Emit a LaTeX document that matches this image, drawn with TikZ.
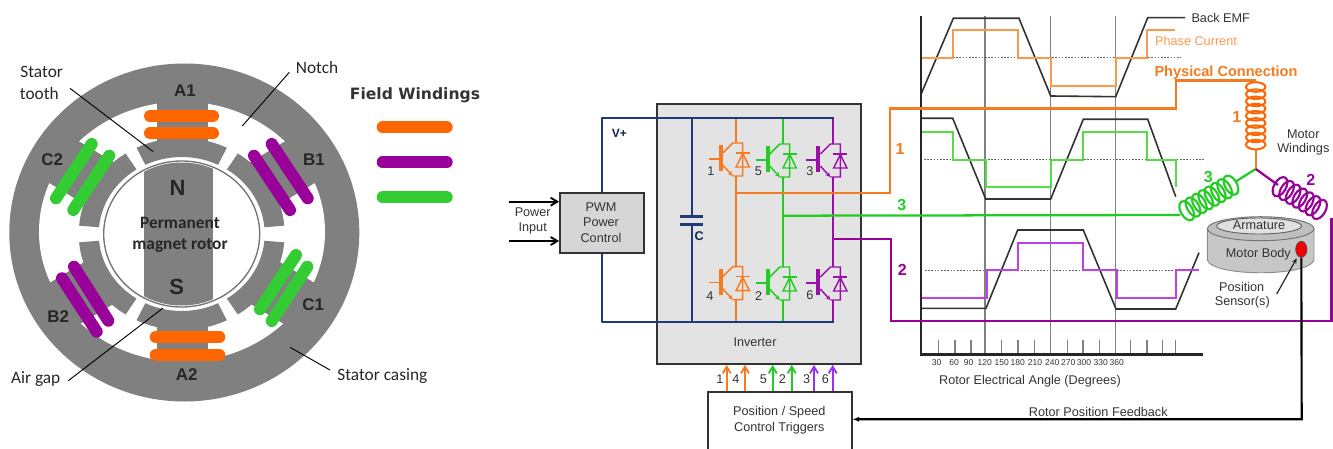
\documentclass[tikz,border=0pt]{standalone}
\usepackage{fontspec}
\setmainfont{Liberation Sans}
\newfontfamily\calib{Carlito}
\newfontfamily\dvb{DejaVu Sans}
\usetikzlibrary{arrows.meta,shapes.geometric}
\definecolor{stgray}{HTML}{808080}
\definecolor{wor}{HTML}{FF6600}
\definecolor{wpu}{HTML}{990099}
\definecolor{wgr}{HTML}{33CC33}
\definecolor{ior}{HTML}{F47B20}
\definecolor{igr}{HTML}{22CC22}
\definecolor{ipu}{HTML}{9A0FA8}
\definecolor{navy1}{HTML}{1F3A7A}
\definecolor{lor}{HTML}{F79A50}
\definecolor{lgr}{HTML}{55DD44}
\definecolor{lpu}{HTML}{C040E8}
\definecolor{tpu}{HTML}{9933EE}
\definecolor{txt}{HTML}{333333}
\tikzset{
  lbl/.style={inner sep=0pt,text=txt,font=\fontsize{9.5}{11}\selectfont},
  cal/.style={inner sep=0pt,text=black!85,font=\calib\fontsize{13}{15}\selectfont},
  pole/.style={inner sep=0pt,text=black!85,font=\bfseries\fontsize{12.7}{14}\selectfont},
  tick/.style={inner sep=0pt,text=txt,font=\fontsize{6.4}{7}\selectfont},
  num/.style={inner sep=0pt,font=\bfseries\fontsize{12}{14}\selectfont},
  leader/.style={draw=black,line width=0.7pt},
  bar/.style={line width=9pt,line cap=round},
  grayblock/.style={draw=black!80,line width=1.3pt,inner sep=0pt},
  navyw/.style={draw=navy1,line width=1.6pt,line join=round},
  ww/.style={line width=1.5pt,line join=miter},
  emf/.style={draw=black!80,line width=1.2pt,line join=miter},
  cur/.style={line width=1.25pt,line join=miter},
  grd/.style={draw=black!50,line width=0.8pt},
  dots/.style={draw=black!60,line width=0.6pt,dash pattern=on 1.2pt off 1.2pt},
  barb/.style={-{Straight Barb[length=5pt,width=6pt]}},
}
\newcommand{\igbtsym}[4]{%
  \coordinate (#4c) at (#1,#2-16);
  \coordinate (#4e) at (#1,#2+17);
  \begin{scope}[shift={(#1,#2)},draw=#3,line width=1.1pt]
    \draw (-27,0) -- (-15,0);
    \draw[line width=2.8pt] (-15,-14) -- (-15,12);
    \draw (-13,-6) -- (-3,-16) -- (7,-16) -- (7,17) -- (-3,17);
    \draw[-{Stealth[length=3.5pt,width=3.5pt]}] (-13,6) -- (-3,17);
    \draw (0.3,8) -- (13.7,8) -- (7,-5.5) -- cycle;
    \draw (0,-6) -- (14,-6);
  \end{scope}}
\newcommand{\coilsym}[7]{% x y angle n step color name
  \coordinate (#7) at (#1,#2);
  \begin{scope}[shift={(#1,#2)},rotate=#3]
    \foreach \i in {1,...,#4}{\draw[draw=#6,line width=1.6pt] ({(\i-1)*#5},0) ellipse (6 and 10.5);}
  \end{scope}}
\begin{document}
\begin{tikzpicture}[x=0.75pt,y=-0.75pt]
\useasboundingbox (0,0) rectangle (1333,449);
\clip (0,0) rectangle (1333,449);
% ---------- left motor ----------
\fill[stgray] (184.3,232.5) ellipse (175 and 169);
\fill[white] (182,231.7) ellipse (143 and 130);
\foreach \a in {90,31,-31,-90,149,211}{
  \begin{scope}[shift={(182,233)},rotate=\a]
    \fill[stgray] (85,-25.5) rectangle (150,25.5);
  \end{scope}
  \fill[stgray,shift={(181.7,234)}]
    plot[domain=\a-26:\a+26,samples=14] ({83*cos(\x)},{77*sin(\x)}) --
    plot[domain=\a+26:\a-26,samples=14] ({103*cos(\x)},{96*sin(\x)}) -- cycle;
}
\begin{scope}
  \clip (181.7,234) ellipse (76.5 and 71.5);
  \fill[stgray] (144,150) rectangle (213.3,320);
\end{scope}
\draw[black!55,line width=1pt] (181.7,234) ellipse (78 and 73);
\draw[wor,bar] (150,116) -- (213,116);
\draw[wor,bar] (150,133.3) -- (213,133.3);
\draw[wor,bar] (155.7,337) -- (219.3,337);
\draw[wor,bar] (155.7,355) -- (219.3,355);
\draw[wpu,bar] (271.7,144) -- (307.7,198.3);
\draw[wpu,bar] (254,155.7) -- (290,210);
\draw[wpu,bar] (74,266.7) -- (108.3,320.7);
\draw[wpu,bar] (62,278.3) -- (96.7,331.7);
\draw[wgr,bar] (91.7,144) -- (56,198.3);
\draw[wgr,bar] (109.3,155.7) -- (73.3,210);
\draw[wgr,bar] (296,255) -- (260,309.3);
\draw[wgr,bar] (307.3,266.7) -- (271.7,321);
\draw[wor,bar] (382.7,127.3) -- (446.7,127.3);
\draw[wpu,bar] (382.7,162.3) -- (446.7,162.3);
\draw[wgr,bar] (382.7,197.3) -- (446.7,197.3);
\node[pole] (a1) at (185,91) {A1};
\node[pole] (a2) at (186.7,375) {A2};
\node[pole] (b1) at (314,160) {B1};
\node[pole] (b2) at (58.3,316.7) {B2};
\node[pole] (c1) at (313.3,305) {C1};
\node[pole] (c2) at (52.3,159.3) {C2};
\node[pole,font=\bfseries\fontsize{16.5}{18}\selectfont] (np) at (177.5,187.5) {N};
\node[pole,font=\bfseries\fontsize{16.5}{18}\selectfont] (sp) at (176.7,287) {S};
\node[cal,font=\calib\bfseries\fontsize{13}{15}\selectfont] (pm1) at (180,223) {Permanent};
\node[cal,font=\calib\bfseries\fontsize{13}{15}\selectfont] (pm2) at (180,245) {magnet rotor};
\node[cal] (st1) at (41.7,72) {Stator};
\node[cal] (st2) at (39.3,93.3) {tooth};
\node[cal] (notch) at (317,68) {Notch};
\node[cal] (airgap) at (35.7,379.3) {Air gap};
\node[cal] (casing) at (382.3,376) {Stator casing};
\node[inner sep=0pt,text=txt,font=\dvb\bfseries\fontsize{11.7}{14}\selectfont] (field) at (415,95.7) {Field Windings};
\coordinate (l1a) at (70,88.3); \coordinate (l1b) at (153.3,151.7);
\coordinate (l2a) at (289.3,72.3); \coordinate (l2b) at (242.3,126);
\coordinate (l3a) at (68.3,380.7); \coordinate (l3b) at (162.7,308.3);
\coordinate (l4a) at (330,370); \coordinate (l4b) at (290,347.3);
\draw[leader] (l1a) -- (l1b);
\draw[leader] (l2a) -- (l2b);
\draw[leader] (l3a) -- (l3b);
\draw[leader] (l4a) -- (l4b);
% ---------- graphs ----------
\foreach \x in {985,1050.7,1115.7}{\draw[grd] (\x,15.7) -- (\x,354);}
\foreach \x in {938.3,955,971,1001.7,1018,1034.3,1067.7,1083,1099.3,1130.7,1147,1162.3,1175.7}{\draw[grd] (\x,340) -- (\x,354);}
\draw[dots] (953,57.7) -- (1181,57.7);
\draw[dots] (920.7,159.7) -- (1204.7,159.7);
\draw[dots] (925,270.3) -- (1199,270.3);
\draw[emf] (920.7,95) -- (953.3,18.3) -- (1019,18.3) -- (1050.7,96) -- (1115.7,96.7) -- (1147.7,17.7) -- (1185,17.7);
\draw[cur,lor] (920.7,57.7) -- (953,57.7) -- (953,30) -- (1018.3,30) -- (1018.3,57.7) -- (1050.7,57.7) -- (1050.7,85.7) -- (1115.7,85.7) -- (1115.7,57.7) -- (1146.7,57.7) -- (1146.7,30) -- (1175,30);
\draw[emf] (920.7,118.3) -- (952.7,118.3) -- (985.7,199) -- (1050.7,199) -- (1083.3,119.3) -- (1147.7,119.3) -- (1175.7,196.7);
\draw[cur,lgr] (920.7,131.7) -- (953.3,131.7) -- (953.3,159.7) -- (986,159.7) -- (986,187.3) -- (1050.7,187.3) -- (1050.7,159.7) -- (1083.3,159.7) -- (1083.3,131.7) -- (1147.3,131.7) -- (1147.3,159.7) -- (1175.7,159.7) -- (1175.7,187.3);
\draw[emf] (920.7,308.3) -- (986,308.3) -- (1017.7,230) -- (1083.3,230) -- (1116,309) -- (1175.7,309) -- (1199,252.7);
\draw[cur,lpu] (920.7,298.3) -- (986.7,298.3) -- (986.7,270.3) -- (1018.3,270.3) -- (1018.3,242.7) -- (1082.7,242.7) -- (1082.7,270.3) -- (1116.7,270.3) -- (1116.7,298.3) -- (1176,298.3) -- (1176,270.3) -- (1199,270.3);
\draw[black!85,line width=1.8pt,line join=miter] (920.7,15.7) -- (920.7,354.3) -- (1203.3,354.3);
\foreach \x/\t in {936.7/30,954/60,968.7/90,984.7/120,1001.7/150,1017.7/180,1035/210,1052.3/240,1068.3/270,1084/300,1100.7/330,1116.7/360}{
  \node[tick] (t\t) at (\x,362.3) {\t};}
\node[lbl] (raxis) at (1030,381) {Rotor Electrical Angle (Degrees)};
\node[lbl] (rfb) at (1098.3,412) {Rotor Position Feedback};
\node[lbl] (bemf) at (1220.7,17.7) {Back EMF};
\node[lbl,text=lor] (pcur) at (1196,41) {Phase Current};
\node[inner sep=0pt,text=ior,font=\bfseries\fontsize{10.9}{13}\selectfont] (phys) at (1226,72.7) {Physical Connection};
% ---------- boxes ----------
\node[grayblock,fill=black!11,minimum width=153.2pt,minimum height=195pt] (inv) at (758.85,234) {};
\node[grayblock,fill=black!16,minimum width=62.8pt,minimum height=45pt] (pwm) at (601.85,222.7) {};
\node[lbl] (invt) at (755,342.7) {Inverter};
\node[lbl] (pw1) at (601,206.7) {PWM};
\node[lbl] (pw2) at (601,222.7) {Power};
\node[lbl] (pw3) at (601,238.3) {Control};
\node[lbl] (pi1) at (532.7,212.7) {Power};
\node[lbl] (pi2) at (532.7,228) {Input};
\coordinate (pin1) at (509,201.7);
\coordinate (pin2) at (509,241);
\draw[barb,draw=black,line width=1.4pt] (pin1) -- (pwm.west|-pin1);
\draw[barb,draw=black,line width=1.4pt] (pin2) -- (pwm.west|-pin2);
% DC bus
\coordinate (vt) at (834,118.3);
\coordinate (vb) at (834,321.7);
\coordinate (cx) at (691.7,118.3);
\coordinate (cp1) at (691.7,216.7);
\coordinate (cp2) at (691.7,224.7);
\coordinate (cb) at (691.7,321.7);
\draw[navyw] (cx) -- (cp1);
\draw[navyw] (cp2) -- (cb);
\draw[navy1,line width=2.5pt] (680,216.7) -- (702.7,216.7);
\draw[navy1,line width=2.5pt] (680,224.7) -- (702.7,224.7);
\node[inner sep=0pt,text=navy1!70!black,font=\bfseries\fontsize{9.5}{11}\selectfont] (cl) at (699.3,236) {C};
\node[inner sep=0pt,text=navy1!60!black,font=\bfseries\fontsize{9}{11}\selectfont] (vp) at (619.3,133.3) {V+};
% IGBTs
\igbtsym{735.7}{159}{ior}{g1}
\igbtsym{782.7}{160}{igr}{g5}
\igbtsym{833.3}{160}{ipu}{g3}
\igbtsym{735.7}{282.7}{ior}{g4}
\igbtsym{782.7}{283}{igr}{g2}
\igbtsym{833.3}{283}{ipu}{g6}
\foreach \cc/\up/\dn/\x in {ior/g1/g4/735.7,igr/g5/g2/782.7,ipu/g3/g6/833.3}{
  \draw[ww,\cc] (\x,118.3) -- (\up c);
  \draw[ww,\cc] (\up e) -- (\dn c);
  \draw[ww,\cc] (\dn e) -- (\x,321.7);
}
\draw[navyw] (pwm.north) |- (vt);
\draw[navyw] (pwm.south) |- (vb);
\node[tick,font=\fontsize{9.5}{11}\selectfont] (n1) at (711,171) {1};
\node[tick,font=\fontsize{9.5}{11}\selectfont] (n5) at (758.3,171) {5};
\node[tick,font=\fontsize{9.5}{11}\selectfont] (n3) at (810,171) {3};
\node[tick,font=\fontsize{9.5}{11}\selectfont] (n4) at (710,296) {4};
\node[tick,font=\fontsize{9.5}{11}\selectfont] (n2) at (758.7,296) {2};
\node[tick,font=\fontsize{9.5}{11}\selectfont] (n6) at (810,294.7) {6};
% phase wires
\coordinate (j1) at (735.7,192.7);
\coordinate (j3) at (782.7,215.7);
\coordinate (j2) at (833.3,239.3);
% triggers
\node[grayblock,fill=white,minimum width=107.5pt,minimum height=51.2pt] (trig) at (780,425.85) {};
\node[lbl] (tr1t) at (779.3,412.7) {Position / Speed};
\node[lbl] (tr2t) at (779.3,428.7) {Control Triggers};
\foreach \x/\c/\n/\lx in {726.7/ior/1/720,745/ior/4/736,772.7/igr/5/763.3,791.7/igr/2/782.3,814/tpu/3/806.7,832.7/tpu/6/825.3}{
  \coordinate (ta\n) at (\x,380);
  \draw[barb,\c,line width=1.4pt] (ta\n|-trig.north) -- (ta\n|-inv.south);
  \node[lbl] (tl\n) at (\lx,379.3) {\n};
}
% motor body
\draw[black!45,line width=0.7pt,fill=black!22] (1207.3,228.7) -- (1207.3,260) .. controls (1212,277) and (1309,277) .. (1314,260) -- (1314,228.7);
\draw[black!55,fill=black!25,line width=0.7pt] (1260.7,228.7) ellipse (53.3 and 12);
\draw[black!60,fill=black!12,line width=0.7pt] (1259,226) ellipse (42.5 and 8);
\node[lbl] (arm) at (1259,225.7) {Armature};
\node[lbl] (mbody) at (1258.3,254) {Motor Body};
\node[lbl] (ps1) at (1241.7,287) {Position};
\node[lbl] (ps2) at (1242.3,302.3) {Sensor(s)};
\node[lbl] (mw1) at (1303.3,134) {Motor};
\node[lbl] (mw2) at (1303.3,149.3) {Windings};
\coordinate (a1s) at (1276.7,294);
\coordinate (a1e) at (1296.7,258.3);
\draw[draw=black!85,line width=0.9pt,-{Stealth[length=4pt,width=3.5pt]}] (a1s) -- (a1e);
% coils
\coordinate (star) at (1255.7,169);
\begin{scope}[shift={(1255.7,87)},rotate=-90]
  \foreach \i in {1,...,9}{\draw[draw=wor,line width=1.5pt] ({(\i-1)*7.2},0) ellipse (4.8 and 9.7);}
\end{scope}
\coilsym{1186.7}{210.7}{30}{8}{7.3}{igr}{c3a}
\coilsym{1280}{186.7}{-30}{7}{7.6}{wpu}{c2a}
\coordinate (c1top) at (1255.7,80.7);
\coordinate (c1bot) at (1255.7,150);
\coordinate (c3end) at (1235,182);
\coordinate (c2end) at (1278,185);
\draw[ww,ior,line width=1.7pt] (c1bot) -- (star);
\draw[ww,igr,line width=1.7pt] (star) -- (c3end);
\draw[ww,wpu,line width=1.7pt] (star) -- (c2end);
% phase lines to the motor
\draw[ww,ior,line width=1.8pt] (j1) -- (890,192.7) -- (890,108.5) -- (1175.7,108.5) -- (1175.7,80.7) -- (c1top);
\draw[ww,igr,line width=1.7pt] (j3) -- (1180,215);
\draw[ww,wpu,line width=1.7pt] (j2) -- (890.7,239.3) -- (890.7,321) -- (1331.5,321) -- (1331.5,218);
\node[num,text=ior] (o1) at (900,149.3) {1};
\node[num,text=igr] (o3) at (901.7,205) {3};
\node[num,text=wpu] (o2) at (902.3,270) {2};
\node[num,text=ior] (cn1) at (1236.7,117.3) {1};
\node[num,text=igr] (cn3) at (1208.3,176.7) {3};
\node[num,text=wpu] (cn2) at (1310.7,180) {2};
% sensor + feedback
\node[draw=black!70,fill=red!95!black,ellipse,line width=0.5pt,minimum width=8.5pt,minimum height=12pt,inner sep=0pt] (sens) at (1301.3,249.3) {};
\coordinate (fbc) at (1301.7,419.3);
\draw[draw=black,line width=1.6pt,-{Latex[length=5pt,width=4pt]}] (sens.south) -- (fbc) -- (trig.east|-fbc);
\end{tikzpicture}
\end{document}
